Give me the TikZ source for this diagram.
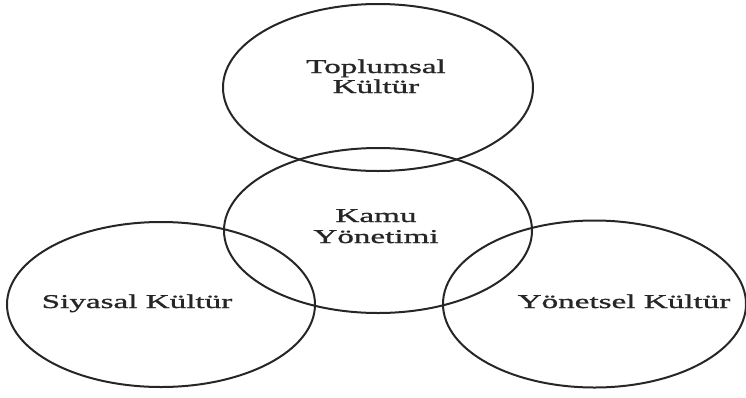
\documentclass[tikz,border=0pt]{standalone}
\usepackage{fontspec}
\newfontfamily\lblfont[FakeStretch=1.7,FakeBold=1.2]{Liberation Serif}
\usetikzlibrary{shapes.geometric}
\begin{document}
\begin{tikzpicture}[x=1pt,y=-1pt,
  ring/.style={ellipse,draw=black!85,line width=2pt,inner sep=0pt},
  lbl/.style={font=\lblfont\fontsize{19.5}{21}\selectfont,text=black!85,align=center,inner sep=0pt}]
\useasboundingbox (0,0) rectangle (746,397);
\node[ring,minimum width=310pt,minimum height=167pt] (top) at (378,87.5) {};
\node[ring,minimum width=308pt,minimum height=165pt] (mid) at (378,230.5) {};
\node[ring,minimum width=308pt,minimum height=165pt] (left) at (161,304.5) {};
\node[ring,minimum width=303pt,minimum height=167pt] (right) at (594.5,304) {};
\node[lbl,anchor=base] (t1) at (376,73) {Toplumsal};
\node[lbl,anchor=base] (t2) at (376,93) {Kültür};
\node[lbl,anchor=base] (m1) at (376,222) {Kamu};
\node[lbl,anchor=base] (m2) at (376,243) {Yönetimi};
\node[lbl,anchor=base] (l1) at (137,308) {Siyasal Kültür};
\node[lbl,anchor=base] (r1) at (624,308) {Yönetsel Kültür};
\end{tikzpicture}
\end{document}
